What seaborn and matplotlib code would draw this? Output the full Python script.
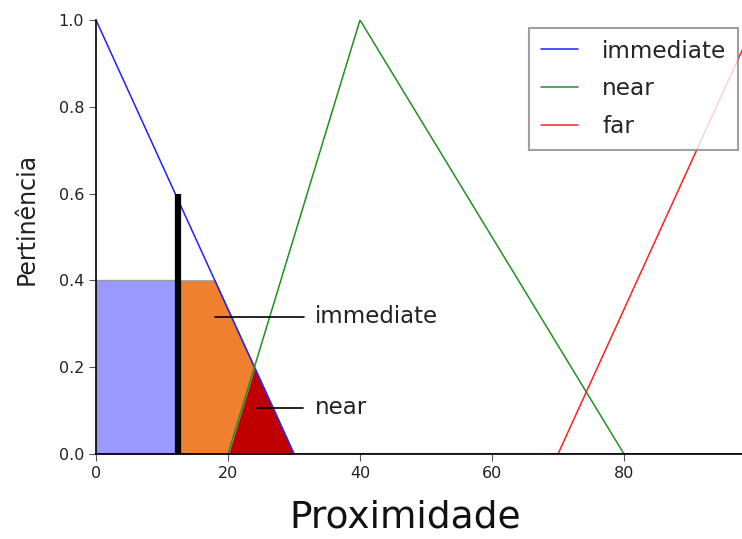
import numpy as np
import pandas as pd
import matplotlib
matplotlib.use("Agg")
import matplotlib.pyplot as plt
import seaborn as sns

# Membership function breakpoints
immediate_x = [0, 30, 100]
immediate_y = [1.0, 0.0, 0.0]
near_x = [0, 20, 40, 80, 100]
near_y = [0.0, 0.0, 1.0, 0.0, 0.0]
far_x = [0, 70, 100]
far_y = [0.0, 0.0, 1.0]

# Activated (shaded) regions
blue_x = [0, 12.5]
blue_y = [0.4, 0.4]
orange_x = [12.5, 18, 30]
orange_y = [0.4, 0.4, 0.0]
red_x = [20, 24, 30]
red_y = [0.0, 0.2, 0.0]

crisp_x = 12.4
crisp_y = 0.6

x_ticks = [0, 20, 40, 60, 80]
y_ticks = [0.0, 0.2, 0.4, 0.6, 0.8, 1.0]

sns.set_style("ticks")
plt.rcParams['font.family'] = ['DejaVu Sans']

fig = plt.figure(figsize=(7.42, 5.39), dpi=100)
ax = fig.add_axes([96/742, 1-454/539, 660/742, 434/539])

ax.fill_between(blue_x, 0, blue_y, facecolor='#9999ff', edgecolor='#999999', lw=1, zorder=1)
ax.fill_between(orange_x, 0, orange_y, facecolor='#ee8030', edgecolor='#999999', lw=1, zorder=1)
ax.fill_between(red_x, 0, red_y, facecolor='#c00000', edgecolor='#999999', lw=1, zorder=1)

df = pd.concat([
    pd.DataFrame({'x': immediate_x, 'y': immediate_y, 'set': 'immediate'}),
    pd.DataFrame({'x': near_x, 'y': near_y, 'set': 'near'}),
    pd.DataFrame({'x': far_x, 'y': far_y, 'set': 'far'}),
])
sns.lineplot(data=df, x='x', y='y', hue='set', palette=['#2020ff', '#209020', '#ff2020'],
             ax=ax, lw=1.1, sort=False, estimator=None, zorder=2)

ax.vlines(crisp_x, 0, crisp_y, color='black', lw=4.5, zorder=3)

ax.plot([18.0, 31.5], [0.316, 0.316], color='black', lw=1.2, zorder=4)
ax.text(33.2, 0.316, 'immediate', fontsize=16.5, va='center', ha='left', color='#222222')
ax.plot([24.4, 31.3], [0.106, 0.106], color='black', lw=1.2, zorder=4)
ax.text(33.2, 0.106, 'near', fontsize=16.5, va='center', ha='left', color='#222222')

ax.set_xlim(0, 100)
ax.set_ylim(0, 1.0)
ax.set_xticks(x_ticks)
ax.set_yticks(y_ticks)
ax.set_yticklabels([f'{v:.1f}' for v in y_ticks])
ax.tick_params(labelsize=11.5, direction='out', length=5, color='#555555', labelcolor='#222222')
ax.set_xlabel('Proximidade', fontsize=27, color='#111111')
ax.set_ylabel('Pertinência', fontsize=17, color='#222222')
ax.xaxis.set_label_coords((405-96)/660, -(500-454)/434)
ax.yaxis.set_label_coords(-(96-39)/660, (454-219)/434)
for s in ['top', 'right']:
    ax.spines[s].set_visible(False)
for s in ['left', 'bottom']:
    ax.spines[s].set_color('black')
    ax.spines[s].set_linewidth(1.2)

leg = ax.legend(loc='upper left', bbox_to_anchor=((529-96)/660, (454-28)/434),
                borderaxespad=0, fontsize=16.7, frameon=True, fancybox=False,
                edgecolor='#888888', handlelength=1.6, handletextpad=1.05,
                borderpad=0.5, labelspacing=0.64)
leg.get_frame().set_linewidth(1.5)

fig.savefig('out.png', dpi=100)
